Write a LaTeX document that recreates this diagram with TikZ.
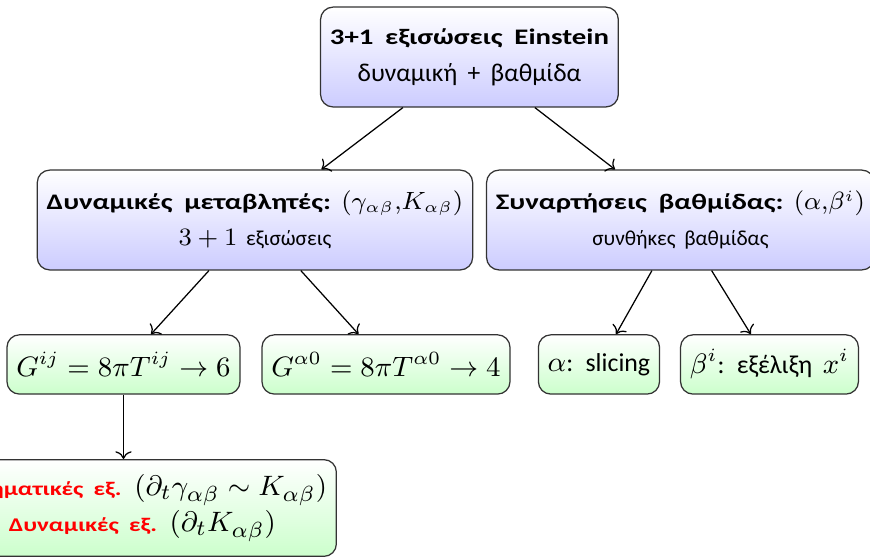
\documentclass[tikz,border=0pt]{standalone}
\usepackage{amsmath}
\usepackage{fontspec}
\setmainfont{Carlito}[Scale=0.9, WordSpace=1.8, BoldFeatures={FakeStretch=1.3}]
\usepackage{tikz}
\usepackage{xcolor}
\usetikzlibrary{arrows.meta, positioning}
\newcommand{\hd}[2][7.9]{{\fontsize{#1}{11.5}\selectfont\bfseries #2}}
\tikzset{
	mainbox/.style={rectangle, rounded corners=4pt, draw=black!80, top color=white, bottom color=blue!20, align=center, inner xsep=3pt, font=\fontsize{7.6}{11.5}\selectfont, minimum height=32pt},
	eqbox/.style  ={rectangle, rounded corners=4pt, draw=black!80, top color=white, bottom color=green!20, align=center, inner xsep=3pt, font=\fontsize{9.2}{11}\selectfont, minimum height=19pt},
	treearrow/.style={->, thin},
}

\begin{document}
\begin{tikzpicture}
	\useasboundingbox (0,0) rectangle (9.8,6.2855);
	% top level
	\node[mainbox, font=\fontsize{9.1}{11.9}\selectfont] (einstein) at (5.288,5.643) {\hd{3+1 εξισώσεις Einstein}\\ δυναμική + βαθμίδα};
	% second level
	\node[mainbox] (dynvars) at (2.872,3.807) {\hd{Δυναμικές μεταβλητές:} $(\gamma_{\alpha\beta}{,}K_{\alpha\beta})$\\ $3+1$ εξισώσεις};
	\node[mainbox] (gauge) at (7.665,3.807) {\hd{Συναρτήσεις βαθμίδας:} $(\alpha{,}\beta^i)$\\ συνθήκες βαθμίδας};
	% equations
	\node[eqbox] (gij) at (1.391,2.180) {$G^{ij}=8\pi T^{ij}\to 6$};
	\node[eqbox] (ga0) at (4.348,2.180) {$G^{\alpha 0}=8\pi T^{\alpha 0}\to 4$};
	\node[eqbox] (lapse) at (6.747,2.180) {$\alpha$: slicing};
	\node[eqbox] (shift) at (8.668,2.180) {$\beta^i$: εξέλιξη $x^i$};
	\node[eqbox, font=\fontsize{9.4}{11.5}\selectfont, minimum height=31pt, anchor=east] (split) at (3.796,0.563) {$6$ \textcolor{red}{\hd[6.9]{Κινηματικές εξ.}} $(\partial_t\gamma_{\alpha\beta}\sim K_{\alpha\beta})$\\ $6$ \textcolor{red}{\hd[6.9]{Δυναμικές εξ.}} $(\partial_t K_{\alpha\beta})$};
	% arrows
	\draw[treearrow] (einstein) -- (dynvars);
	\draw[treearrow] (einstein) -- (gauge);
	\draw[treearrow] (dynvars) -- (gij);
	\draw[treearrow] (dynvars) -- (ga0);
	\draw[treearrow] (gauge) -- (lapse);
	\draw[treearrow] (gauge) -- (shift);
	\draw[treearrow] (gij) -- (gij |- split.north);
\end{tikzpicture}
\end{document}
